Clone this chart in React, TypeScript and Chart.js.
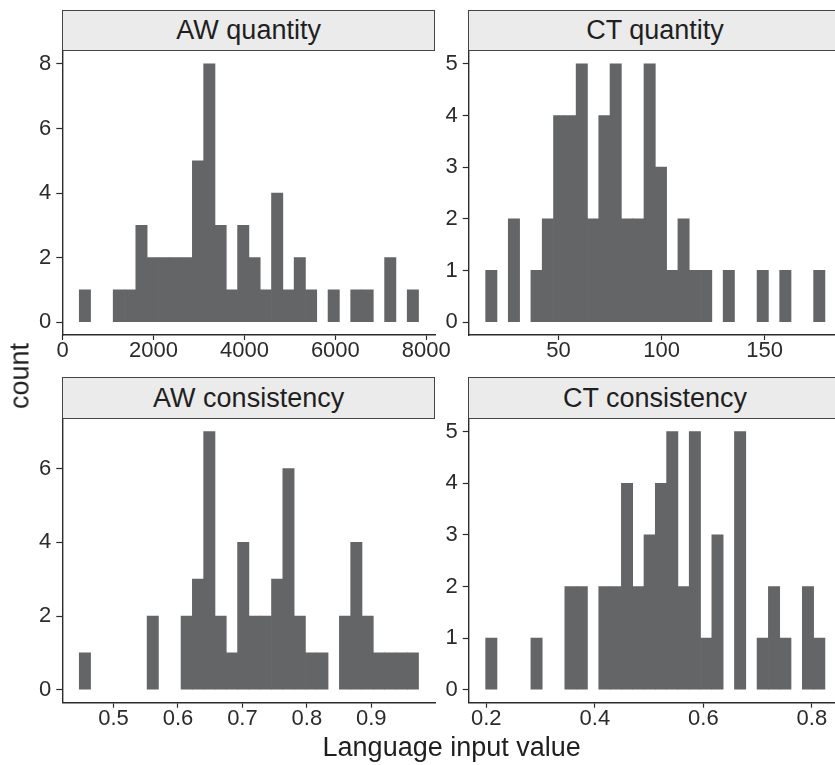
import React, { useEffect, useRef } from "react";
import { Chart, registerables } from "chart.js";

Chart.register(...registerables);

// ---------- data (histogram bin counts, 30 bins each) ----------
const awQuantityCounts = [1, 0, 0, 1, 1, 3, 2, 2, 2, 2, 5, 8, 3, 1, 3, 2, 1, 4, 1, 2, 1, 0, 1, 0, 1, 1, 0, 2, 0, 1];
const awQuantityBinStart = 366;
const awQuantityBinWidth = 248.8;
const awQuantityXTicks = [0, 2000, 4000, 6000, 8000];
const awQuantityYTicks = [0, 2, 4, 6, 8];

const ctQuantityCounts = [1, 0, 2, 0, 1, 2, 4, 4, 5, 2, 4, 5, 2, 2, 5, 3, 1, 2, 1, 1, 0, 1, 0, 0, 1, 0, 1, 0, 0, 1];
const ctQuantityBinStart = 14.6;
const ctQuantityBinWidth = 5.49;
const ctQuantityXTicks = [50, 100, 150];
const ctQuantityYTicks = [0, 1, 2, 3, 4, 5];

const awConsistencyCounts = [1, 0, 0, 0, 0, 0, 2, 0, 0, 2, 3, 7, 2, 1, 4, 2, 2, 3, 6, 2, 1, 1, 0, 2, 4, 2, 1, 1, 1, 1];
const awConsistencyBinStart = 0.4468;
const awConsistencyBinWidth = 0.01755;
const awConsistencyXTicks = [0.5, 0.6, 0.7, 0.8, 0.9];
const awConsistencyYTicks = [0, 2, 4, 6];

const ctConsistencyCounts = [1, 0, 0, 0, 1, 0, 0, 2, 2, 0, 2, 2, 4, 2, 3, 4, 5, 2, 5, 1, 3, 0, 5, 0, 1, 2, 1, 0, 2, 1];
const ctConsistencyBinStart = 0.1988;
const ctConsistencyBinWidth = 0.02084;
const ctConsistencyXTicks = [0.2, 0.4, 0.6, 0.8];
const ctConsistencyYTicks = [0, 1, 2, 3, 4, 5];

const panelTitles = ["AW quantity", "CT quantity", "AW consistency", "CT consistency"];
const xAxisTitle = "Language input value";
const yAxisTitle = "count";

// ---------- layout / style ----------
const CANVAS_W = 880;
const CANVAS_H = 765;
const Y_AXIS_W = 50;
const X_AXIS_H = 40;
const STRIP_H = 41.3;
const FONT = "'Liberation Sans', Arial, Helvetica, sans-serif";
const BAR_COLOR = "#646567";
const INK = "#2b2b2b";

type PanelProps = {
  title: string;
  counts: number[];
  binStart: number;
  binWidth: number;
  xTicks: number[];
  yTicks: number[];
  area: { L: number; R: number; T: number; B: number };
};

function Panel({ title, counts, binStart, binWidth, xTicks, yTicks, area }: PanelProps) {
  const ref = useRef<HTMLCanvasElement | null>(null);

  useEffect(() => {
    if (!ref.current) return;
    const points = counts.map((c, i) => ({ x: binStart + binWidth * (i + 0.5), y: c }));
    const binEnd = binStart + binWidth * counts.length;
    const xPad = (binEnd - binStart) * 0.05;
    const yMax = Math.max(...counts);
    const yPad = yMax * 0.05;

    const chart = new Chart(ref.current, {
      type: "bar",
      data: {
        datasets: [
          {
            data: points as any,
            backgroundColor: counts.map((c) => (c > 0 ? BAR_COLOR : "rgba(0,0,0,0)")),
            borderWidth: 0,
            barPercentage: 1,
            categoryPercentage: 1,
          },
        ],
      },
      options: {
        animation: false,
        responsive: false,
        events: [],
        layout: {
          padding: {
            left: area.L - Y_AXIS_W,
            top: area.T,
            right: CANVAS_W - area.R,
            bottom: CANVAS_H - area.B - X_AXIS_H,
          },
        },
        plugins: { legend: { display: false }, tooltip: { enabled: false }, title: { display: false } },
        scales: {
          x: {
            type: "linear",
            bounds: "data",
            offset: false,
            min: binStart - xPad,
            max: binEnd + xPad,
            afterBuildTicks: (axis: any) => {
              axis.ticks = xTicks.map((v) => ({ value: v }));
            },
            afterFit: (axis: any) => {
              axis.height = X_AXIS_H;
            },
            grid: {
              display: true,
              offset: false,
              drawOnChartArea: false,
              drawTicks: true,
              tickLength: 5,
              tickColor: INK,
              tickWidth: 1.2,
            },
            border: { display: true, color: INK, width: 1.4 },
            ticks: {
              color: INK,
              padding: 0,
              maxRotation: 0,
              autoSkip: false,
              font: { family: FONT, size: 22, lineHeight: 1 },
              callback: (v: any) => String(v),
            },
          },
          y: {
            type: "linear",
            bounds: "data",
            min: -yPad,
            max: yMax + yPad,
            afterBuildTicks: (axis: any) => {
              axis.ticks = yTicks.map((v) => ({ value: v }));
            },
            afterFit: (axis: any) => {
              axis.width = Y_AXIS_W;
            },
            grid: {
              display: true,
              drawOnChartArea: false,
              drawTicks: true,
              tickLength: 6,
              tickColor: INK,
              tickWidth: 1.2,
            },
            border: { display: true, color: INK, width: 1.4 },
            ticks: {
              color: INK,
              padding: 5,
              autoSkip: false,
              font: { family: FONT, size: 22, lineHeight: 1 },
              callback: (v: any) => String(v),
            },
          },
        },
      } as any,
    });
    return () => chart.destroy();
  }, []);

  return (
    <>
      <canvas
        ref={ref}
        width={CANVAS_W}
        height={CANVAS_H}
        style={{ position: "absolute", left: 0, top: 0, width: CANVAS_W, height: CANVAS_H }}
      />
      <div
        style={{
          position: "absolute",
          left: area.L - 0.5,
          top: area.T - STRIP_H,
          width: area.R - area.L + 0.5,
          height: STRIP_H,
          boxSizing: "border-box",
          border: "1.3px solid #444444",
          background: "#EBEBEB",
          display: "flex",
          alignItems: "center",
          justifyContent: "center",
          fontFamily: FONT,
          fontSize: 27,
          lineHeight: 1,
          color: "#1f1f1f",
          whiteSpace: "nowrap",
        }}
      >
        {title}
      </div>
    </>
  );
}

export default function App() {
  const leftL = 62.3;
  const leftR = 435.5;
  const rightL = 468.7;
  const rightR = 841.9;
  const topT = 51;
  const topB = 335;
  const botT = 418.7;
  const botB = 702.7;

  return (
    <div
      style={{
        position: "fixed",
        left: 0,
        top: 0,
        width: 835,
        height: 765,
        overflow: "hidden",
        background: "#ffffff",
      }}
    >
      <Panel
        title={panelTitles[0]}
        counts={awQuantityCounts}
        binStart={awQuantityBinStart}
        binWidth={awQuantityBinWidth}
        xTicks={awQuantityXTicks}
        yTicks={awQuantityYTicks}
        area={{ L: leftL, R: leftR, T: topT, B: topB }}
      />
      <Panel
        title={panelTitles[1]}
        counts={ctQuantityCounts}
        binStart={ctQuantityBinStart}
        binWidth={ctQuantityBinWidth}
        xTicks={ctQuantityXTicks}
        yTicks={ctQuantityYTicks}
        area={{ L: rightL, R: rightR, T: topT, B: topB }}
      />
      <Panel
        title={panelTitles[2]}
        counts={awConsistencyCounts}
        binStart={awConsistencyBinStart}
        binWidth={awConsistencyBinWidth}
        xTicks={awConsistencyXTicks}
        yTicks={awConsistencyYTicks}
        area={{ L: leftL, R: leftR, T: botT, B: botB }}
      />
      <Panel
        title={panelTitles[3]}
        counts={ctConsistencyCounts}
        binStart={ctConsistencyBinStart}
        binWidth={ctConsistencyBinWidth}
        xTicks={ctConsistencyXTicks}
        yTicks={ctConsistencyYTicks}
        area={{ L: rightL, R: rightR, T: botT, B: botB }}
      />
      <div
        style={{
          position: "absolute",
          left: 20,
          top: 376,
          transform: "translate(-50%, -50%) rotate(-90deg)",
          fontFamily: FONT,
          fontSize: 27,
          lineHeight: 1,
          color: "#1f1f1f",
          whiteSpace: "nowrap",
        }}
      >
        {yAxisTitle}
      </div>
      <div
        style={{
          position: "absolute",
          left: 451.7,
          top: 733.8,
          transform: "translateX(-50%)",
          fontFamily: FONT,
          fontSize: 27,
          lineHeight: 1,
          color: "#1f1f1f",
          whiteSpace: "nowrap",
        }}
      >
        {xAxisTitle}
      </div>
    </div>
  );
}
